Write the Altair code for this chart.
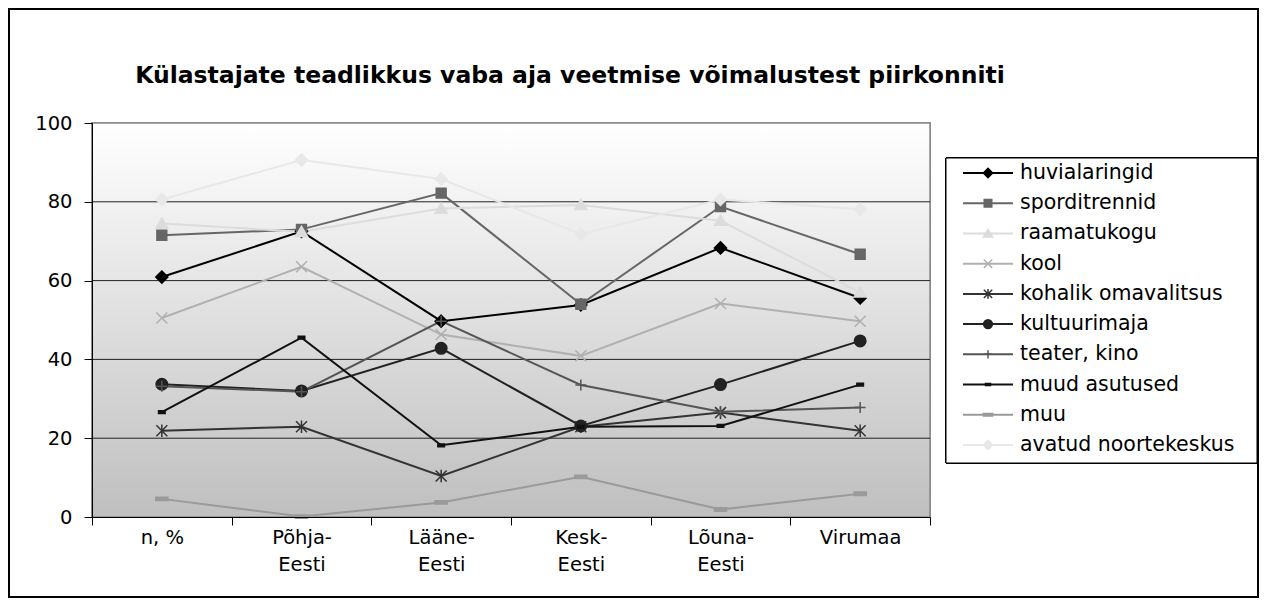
import altair as alt
import pandas as pd

title_text = "Külastajate teadlikkus vaba aja veetmise võimalustest piirkonniti"
categories = ["n, %", "Põhja-Eesti", "Lääne-Eesti", "Kesk-Eesti", "Lõuna-Eesti", "Virumaa"]
series = ["huvialaringid", "sporditrennid", "raamatukogu", "kool", "kohalik omavalitsus",
          "kultuurimaja", "teater, kino", "muud asutused", "muu", "avatud noortekeskus"]

huvialaringid = [60.9, 72.5, 49.7, 53.8, 68.3, 55.6]
sporditrennid = [71.5, 73.0, 82.2, 54.0, 78.8, 66.7]
raamatukogu = [74.5, 72.4, 78.3, 79.2, 75.2, 57.0]
kool = [50.5, 63.5, 46.3, 40.9, 54.2, 49.7]
kohalik_omavalitsus = [21.9, 22.9, 10.4, 22.9, 26.5, 21.9]
kultuurimaja = [33.7, 32.0, 42.8, 23.1, 33.6, 44.7]
teater_kino = [33.2, 31.8, 49.7, 33.5, 26.7, 27.8]
muud_asutused = [26.6, 45.5, 18.2, 22.9, 23.1, 33.6]
muu = [4.6, 0.1, 3.7, 10.2, 1.9, 5.9]
avatud_noortekeskus = [80.6, 90.6, 85.8, 71.8, 80.6, 78.1]

values = [huvialaringid, sporditrennid, raamatukogu, kool, kohalik_omavalitsus,
          kultuurimaja, teater_kino, muud_asutused, muu, avatud_noortekeskus]

colors = ["#000000", "#666666", "#dcdcdc", "#b0b0b0", "#333333",
          "#222222", "#555555", "#111111", "#9a9a9a", "#e8e8e8"]

shapes = [
    "M0,-1.1L1.1,0L0,1.1L-1.1,0Z",                       # diamond
    "M-0.9,-0.9L0.9,-0.9L0.9,0.9L-0.9,0.9Z",             # square
    "M0,-1L1.1,0.85L-1.1,0.85Z",                         # triangle
    "M-1,-1L1,1M-1,1L1,-1",                              # x
    "M-1,-1L1,1M-1,1L1,-1M0,-1.15L0,1.15",               # asterisk
    "M1.05,0A1.05,1.05,0,1,1,-1.05,0A1.05,1.05,0,1,1,1.05,0Z",  # circle
    "M-1,0L1,0M0,-1L0,1",                                # plus
    "M-0.6,-0.25L0.6,-0.25L0.6,0.25L-0.6,0.25Z",         # short dash
    "M-1.1,-0.3L1.1,-0.3L1.1,0.3L-1.1,0.3Z",             # long dash
    "M0,-1.1L1.1,0L0,1.1L-1.1,0Z",                       # diamond
]

y_ticks = [0, 20, 40, 60, 80, 100]
grid_values = [20, 40, 60, 80]

rows = []
for s, vals in zip(series, values):
    for c, v in zip(categories, vals):
        rows.append({"series": s, "cat": c, "value": v})
df = pd.DataFrame(rows)
leg_df = pd.DataFrame({"series": series})
grid_df = pd.DataFrame({"v": grid_values})

W, H = 838, 394
FONT = "DejaVu Sans"

stroke_scale = alt.Scale(domain=series, range=colors)
fill_scale = alt.Scale(domain=series, range=colors)
shape_scale = alt.Scale(domain=series, range=shapes)

x_enc = alt.X("cat:N", sort=categories,
              scale=alt.Scale(type="band", domain=categories, paddingInner=0, paddingOuter=0),
              axis=alt.Axis(title=None, tickBand="extent", labelAngle=0,
                            labelExpr="indexof(datum.label,'-')>0 ? [substring(datum.label,0,indexof(datum.label,'-')+1), substring(datum.label,indexof(datum.label,'-')+1)] : datum.label",
                            labelFont=FONT, labelFontSize=19.5, labelColor="black",
                            labelLineHeight=27, labelPadding=3,
                            domainColor="black", tickColor="black", tickSize=8,
                            zindex=2))
y_enc = alt.Y("value:Q", scale=alt.Scale(domain=[0, 100], nice=False),
              axis=alt.Axis(title=None, values=y_ticks, grid=False,
                            labelFont=FONT, labelFontSize=19.5, labelColor="black",
                            labelPadding=12, domainColor="black", tickColor="black",
                            tickSize=8, zindex=2))

gradient = alt.LinearGradient(
    gradient="linear",
    stops=[alt.GradientStop(color="#ffffff", offset=0),
           alt.GradientStop(color="#bfbfbf", offset=1)],
    x1=0, x2=0, y1=0, y2=1)

base = alt.Chart(df)

bg = alt.Chart(grid_df).mark_rect(fill=gradient, stroke="#8a8a8a", strokeWidth=1.5).encode(
    x=alt.value(0), x2=alt.value(W), y=alt.value(0), y2=alt.value(H))

grid = alt.Chart(grid_df).mark_rule(color="#222222", strokeWidth=1).encode(
    y=alt.Y("v:Q", scale=alt.Scale(domain=[0, 100], nice=False)))

lines = base.mark_line(strokeWidth=2).encode(
    x=x_enc, y=y_enc,
    stroke=alt.Stroke("series:N", scale=stroke_scale, legend=None, sort=series))

points = base.mark_point(opacity=1, strokeWidth=1.5, size=120).encode(
    x=x_enc, y=y_enc,
    shape=alt.Shape("series:N", scale=shape_scale, legend=None, sort=series),
    fill=alt.Fill("series:N", scale=fill_scale, legend=None, sort=series),
    stroke=alt.Stroke("series:N", scale=stroke_scale, legend=None, sort=series))

main = alt.layer(bg, grid, lines, points)

leg_y = alt.Y("series:N", sort=series,
              scale=alt.Scale(type="point", domain=series, range=[50, 322], padding=0),
              axis=None)

leg_box = alt.Chart(leg_df).mark_rect(fill="white", stroke="black", strokeWidth=1).encode(
    x=alt.value(854), x2=alt.value(1165), y=alt.value(35), y2=alt.value(340))
leg_rule = alt.Chart(leg_df).mark_rule(strokeWidth=2).encode(
    x=alt.value(871), x2=alt.value(921), y=leg_y,
    stroke=alt.Stroke("series:N", scale=stroke_scale, legend=None, sort=series))
leg_pt = alt.Chart(leg_df).mark_point(opacity=1, strokeWidth=1.5, size=70).encode(
    x=alt.value(896), y=leg_y,
    shape=alt.Shape("series:N", scale=shape_scale, legend=None, sort=series),
    fill=alt.Fill("series:N", scale=fill_scale, legend=None, sort=series),
    stroke=alt.Stroke("series:N", scale=stroke_scale, legend=None, sort=series))
leg_txt = alt.Chart(leg_df).mark_text(align="left", baseline="middle", font=FONT,
                                      fontSize=20.5, color="black").encode(
    x=alt.value(928), y=leg_y, text="series:N")
legend = alt.layer(leg_box, leg_rule, leg_pt, leg_txt)

title = alt.Chart(leg_df.head(1)).mark_text(
    text=title_text, font=FONT, fontSize=23.5, fontWeight="bold",
    align="center", baseline="alphabetic", color="black").encode(
    x=alt.value(478), y=alt.value(-40))

frame = alt.Chart(leg_df.head(1)).mark_rect(fill=None, stroke="black", strokeWidth=2).encode(
    x=alt.value(-83), x2=alt.value(1166), y=alt.value(-114), y2=alt.value(474))

chart = alt.layer(main, legend, title, frame).resolve_scale(y="independent").properties(
    width=W, height=H,
    padding={"left": 84, "top": 115, "right": 329, "bottom": 81},
    autosize=alt.AutoSizeParams(type="none"),
    background="white",
).configure_view(stroke=None)

chart.save("out.html", embed_options={"renderer": "svg", "actions": False})
